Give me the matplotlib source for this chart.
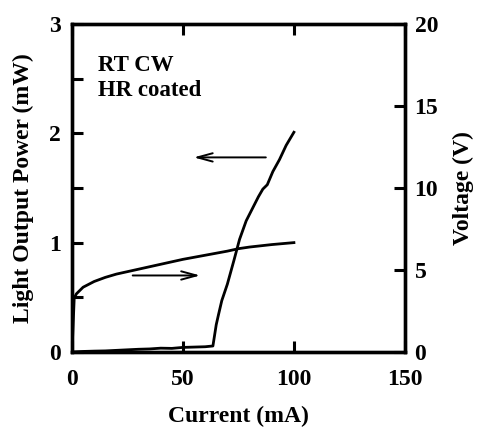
import matplotlib
matplotlib.use("Agg")
import matplotlib.pyplot as plt

# Data
power_current = [0, 5, 10, 15, 20, 25, 30, 35, 40, 45, 50, 55, 60, 63.5, 65, 66, 67.5, 70, 73, 75.5, 78.5, 81, 84, 86, 88, 90.5, 93.5, 96.5, 100]
power_mw = [0.0, 0.005, 0.008, 0.01, 0.015, 0.02, 0.025, 0.028, 0.035, 0.033, 0.042, 0.045, 0.048, 0.055, 0.25, 0.34, 0.47, 0.62, 0.84, 1.03, 1.2, 1.3, 1.42, 1.49, 1.53, 1.65, 1.76, 1.89, 2.01]

volt_current = [0, 1, 2, 5, 10, 15, 20, 25, 30, 40, 50, 60, 70, 75, 80, 90, 100]
voltage_v = [0, 3.3, 3.55, 3.95, 4.3, 4.55, 4.75, 4.9, 5.05, 5.35, 5.65, 5.9, 6.15, 6.3, 6.4, 6.55, 6.67]

x_ticks = [0, 50, 100, 150]
left_ticks = [0, 1, 2, 3]
right_ticks = [0, 5, 10, 15, 20]

font = "Liberation Serif"
plt.rcParams["font.family"] = [font, "DejaVu Serif"]
plt.rcParams["font.weight"] = "bold"

fig = plt.figure(figsize=(4.81, 4.29), dpi=100)
ax = fig.add_axes([0.1497, 0.1795, 0.692, 0.7645])
ax2 = ax.twinx()

ax.plot(power_current, power_mw, color="black", lw=2.0)
ax2.plot(volt_current, voltage_v, color="black", lw=2.0)

ax.set_xlim(0, 150)
ax.set_ylim(0, 3)
ax2.set_ylim(0, 20)

ax.set_xticks(x_ticks)
ax.set_yticks(left_ticks)
ax.set_yticks([0.5, 1.5, 2.5], minor=True)
ax2.set_yticks(right_ticks)

for a in (ax, ax2):
    for s in a.spines.values():
        s.set_linewidth(2.4)

ax.tick_params(axis="both", which="both", direction="in", width=2.2, length=8,
               labelsize=17, top=True)
ax.tick_params(axis="y", which="major", pad=8)
ax.tick_params(axis="x", which="major", pad=12)
ax2.tick_params(axis="y", direction="in", width=2.2, length=8, labelsize=17, pad=7)
for lbl in ax.get_xticklabels() + ax.get_yticklabels() + ax2.get_yticklabels():
    lbl.set_fontweight("bold")

ax.set_xlabel("Current (mA)", fontsize=17, fontweight="bold")
ax.set_ylabel("Light Output Power (mW)", fontsize=17, fontweight="bold")
ax2.set_ylabel("Voltage (V)", fontsize=17, fontweight="bold")
ax.xaxis.set_label_coords(0.5, -0.228)
ax.xaxis.label.set_va("bottom")
ax.yaxis.set_label_coords(-0.147, 0.5)
ax.yaxis.label.set_va("center")
ax.yaxis.label.set_ha("center")
ax2.yaxis.set_label_coords(1.176, 0.5)
ax2.yaxis.label.set_va("center")
ax2.yaxis.label.set_ha("center")

ax.text(0.078, 0.875, "RT CW", transform=ax.transAxes, fontsize=16.5,
        fontweight="bold", va="center", ha="left")
ax.text(0.078, 0.796, "HR coated", transform=ax.transAxes, fontsize=16.5,
        fontweight="bold", va="center", ha="left")

ax.annotate("", xy=(53.6, 1.78), xytext=(88.6, 1.78),
            arrowprops=dict(arrowstyle="->,head_length=1.1,head_width=0.3", lw=1.4, color="black"))
ax.annotate("", xy=(59.0, 0.70), xytext=(26.1, 0.70),
            arrowprops=dict(arrowstyle="->,head_length=1.1,head_width=0.3", lw=1.4, color="black"))

fig.savefig("out.png", dpi=100)
